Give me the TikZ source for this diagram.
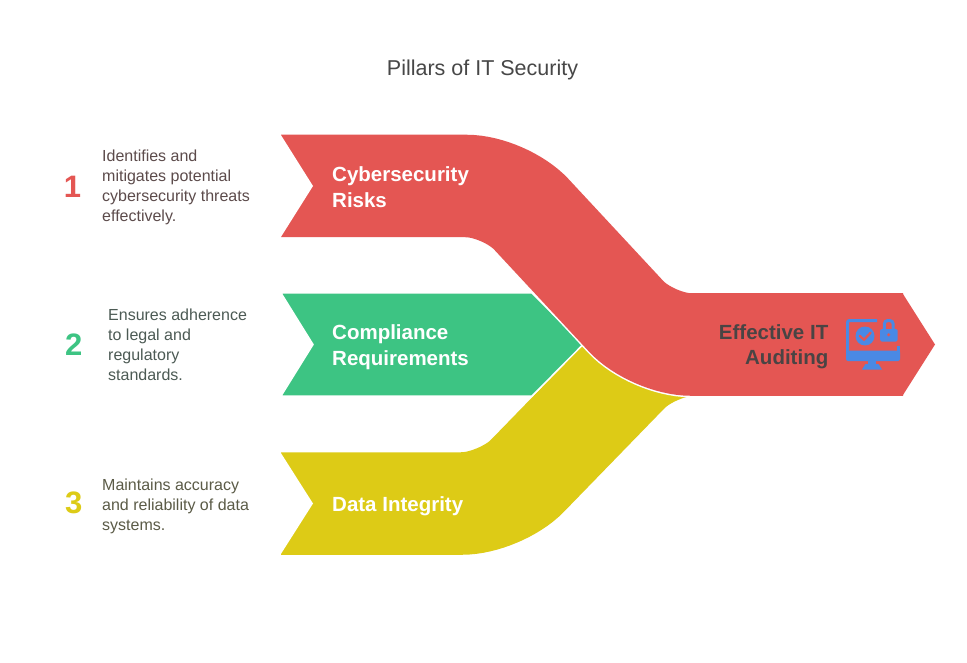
\documentclass[tikz,border=0pt]{standalone}
\usepackage{fontspec}
\setmainfont{Liberation Sans}
\definecolor{cred}{HTML}{E45653}
\definecolor{cgreen}{HTML}{3DC483}
\definecolor{cyel}{HTML}{DDCB16}
\definecolor{cblue}{HTML}{4A89E4}
\definecolor{tone}{HTML}{5C4B4B}
\definecolor{ttwo}{HTML}{4C5A54}
\definecolor{tthree}{HTML}{5B5B47}
\definecolor{ctitle}{HTML}{474747}
\definecolor{cout}{HTML}{4A4444}
\begin{document}
\begin{tikzpicture}[x=1pt,y=-1pt,
  desc/.style={anchor=west, align=left, inner sep=0pt, font=\fontsize{16}{20}\selectfont},
  bandtext/.style={anchor=west, align=left, inner sep=0pt, text=white, font=\bfseries\fontsize{20.5}{26}\selectfont},
  outtext/.style={anchor=east, align=right, inner sep=0pt, text=cout, font=\bfseries\fontsize{20.5}{25}\selectfont},
  numtext/.style={inner sep=0pt, font=\bfseries\fontsize{31}{31}\selectfont},
  titletext/.style={inner sep=0pt, text=ctitle, font=\fontsize{21.5}{26}\selectfont},
  band/.style={line width=102.5pt, rounded corners=38.5pt},
  notch/.style={fill=white}
]
\useasboundingbox (0,0) rectangle (967,663);
\fill[white] (0,0) rectangle (967,663);

% yellow band
\draw[band, cyel] (281,503.5) -- (500.5,503.5) -- (655,344.5) -- (760,344.5);
\fill[notch] (279,450) -- (313,503.5) -- (279,557) -- cycle;

% green chevron
\draw[fill=cgreen, draw=white, line width=1.5pt] (281,293) -- (532,293) -- (583,344.5) -- (532,396) -- (281,396) -- (313,344.5) -- cycle;

% red band
\draw[band, white, line width=105.5pt] (281,186) -- (505,186) -- (652.4,344.5) -- (903,344.5);
\draw[band, cred] (281,186) -- (505,186) -- (652.4,344.5) -- (903,344.5);
\fill[notch] (279,132) -- (313,186) -- (279,240) -- cycle;
\fill[cred] (902.5,293.25) -- (935,344.5) -- (902.5,395.75) -- cycle;

% icon
\draw[cblue, line width=3pt, rounded corners=2pt] (877,320.5) -- (847.5,320.5) -- (847.5,356);
\draw[cblue, line width=3pt] (898.5,356) -- (898.5,345.5);
\fill[cblue, rounded corners=2pt] (846,350.5) rectangle (900,361);
\fill[cblue] (868,359) rectangle (876,365);
\fill[cblue] (865.5,364) -- (878.5,364) -- (882,369.5) -- (862,369.5) -- cycle;
\fill[cblue] (865,336) circle[radius=9.5];
\draw[cred, line width=2.3pt, line cap=round, line join=round] (860,336) -- (864,339.8) -- (870.5,332.8);
\fill[cblue, rounded corners=1.5pt] (880,329) rectangle (897.5,341.5);
\draw[cblue, line width=3pt, rounded corners=3.5pt] (884.3,330) -- (884.3,320.5) -- (893.2,320.5) -- (893.2,330);
\fill[cred] (888.7,334.8) circle[radius=1.7];

% texts
\node[titletext] (title) at (482.5,70) {Pillars of IT Security};
\node[numtext, text=cred] (n1) at (72.5,186.7) {1};
\node[numtext, text=cgreen] (n2) at (73.8,344.2) {2};
\node[numtext, text=cyel] (n3) at (73.8,502.5) {3};
\node[desc, text=tone] (d1) at (102,187.5) {Identifies and\\mitigates potential\\cybersecurity threats\\effectively.};
\node[desc, text=ttwo] (d2) at (108,345) {Ensures adherence\\to legal and\\regulatory\\standards.};
\node[desc, text=tthree] (d3) at (102,506) {Maintains accuracy\\and reliability of data\\systems.};
\node[bandtext] (b1) at (332,187) {Cybersecurity\\Risks};
\node[bandtext] (b2) at (332,347.5) {Compliance\\Requirements};
\node[bandtext] (b3) at (332,506) {Data Integrity};
\node[outtext] (out) at (828.5,347) {Effective IT\\Auditing};
\end{tikzpicture}
\end{document}
